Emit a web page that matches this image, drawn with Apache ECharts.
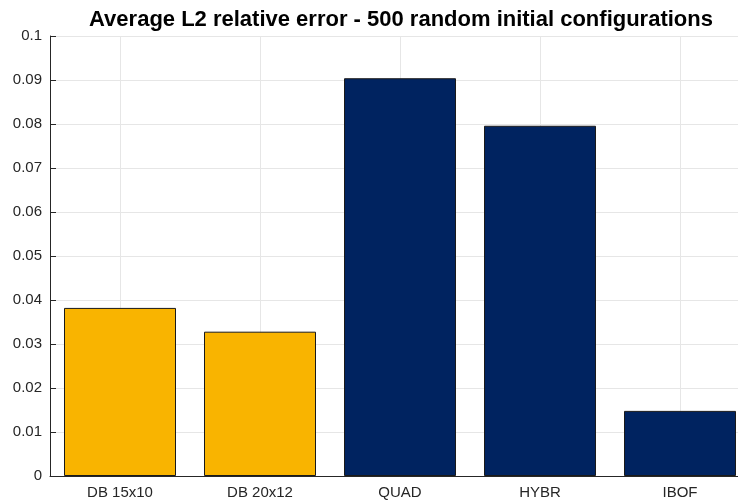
<!DOCTYPE html>
<html>
<head>
<meta charset="utf-8">
<script src="https://cdn.jsdelivr.net/npm/echarts@6/dist/echarts.min.js"></script>
<style>
  html, body { margin: 0; padding: 0; background: #fff; overflow: hidden; }
  /* the plot box runs past the right edge of the picture, as in the original */
  #chart { width: 750px; height: 502px; }
</style>
</head>
<body>
<div id="chart"></div>
<script>
// data
const categories = ['DB 15x10', 'DB 20x12', 'QUAD', 'HYBR', 'IBOF']
const errors = [0.0382, 0.0328, 0.0904, 0.0796, 0.0148]
const groupColors = ['#f9b400', '#f9b400', '#002360', '#002360', '#002360']

// helper axis: half-band slots so grid lines sit on category centres
const halfSlots = Array.from({ length: categories.length * 2 + 1 }, (_, i) => String(i))

const myChart = echarts.init(document.getElementById('chart'))

const option = {
  animation: false,
  textStyle: { fontFamily: 'Liberation Sans, Arial, sans-serif' },
  title: {
    text: 'Average L2 relative error - 500 random initial configurations',
    left: 396,
    textAlign: 'center',
    top: 4,
    textStyle: { fontSize: 22, fontWeight: 'bold', color: '#000' }
  },
  grid: {
    left: 50,
    right: 0,
    top: 36,
    bottom: 26
  },
  xAxis: [
    {
      type: 'category',
      data: categories,
      axisLine: { show: true, lineStyle: { color: '#262626', width: 1 } },
      axisTick: { show: true, inside: true, alignWithLabel: true, length: 6, lineStyle: { color: '#262626' } },
      axisLabel: { color: '#262626', fontSize: 15, margin: 9 },
      splitLine: { show: false }
    },
    {
      type: 'category',
      data: halfSlots,
      boundaryGap: false,
      position: 'bottom',
      axisLine: { show: false },
      axisTick: { show: false },
      axisLabel: { show: false },
      splitLine: {
        show: true,
        interval: (i) => i % 2 === 1,
        lineStyle: { color: '#e6e6e6', width: 1 }
      }
    }
  ],
  yAxis: {
    type: 'value',
    min: 0,
    max: 0.1,
    interval: 0.01,
    axisLine: { show: true, lineStyle: { color: '#262626', width: 1 } },
    axisTick: { show: true, inside: true, length: 6, lineStyle: { color: '#262626' } },
    axisLabel: {
      color: '#262626',
      fontSize: 15,
      margin: 8,
      formatter: v => String(+v.toFixed(2))
    },
    splitLine: { show: true, lineStyle: { color: '#e6e6e6', width: 1 } }
  },
  series: [
    {
      type: 'bar',
      xAxisIndex: 0,
      barWidth: '80%',
      data: errors.map((v, i) => ({
        value: v,
        itemStyle: { color: groupColors[i] }
      })),
      itemStyle: { borderColor: '#1a1a1a', borderWidth: 1 }
    }
  ]
}

myChart.setOption(option)
</script>
</body>
</html>
